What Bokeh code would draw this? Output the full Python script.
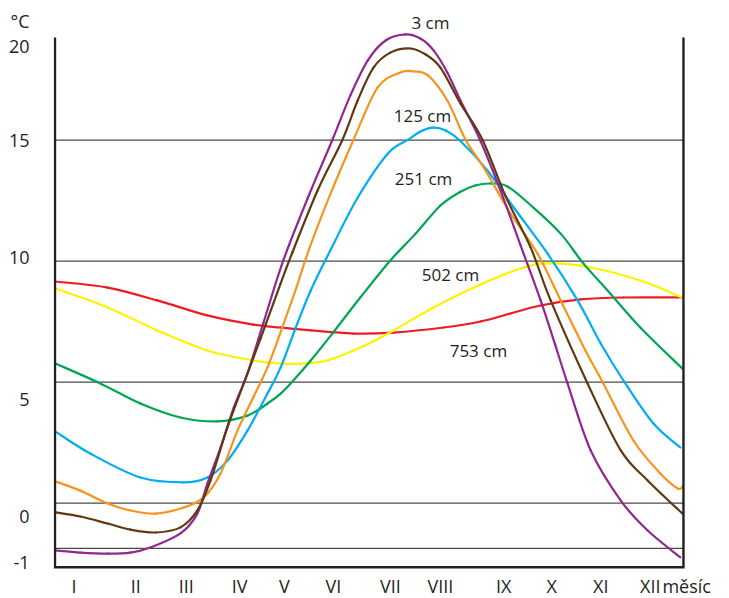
from bokeh.plotting import figure
from bokeh.models import FixedTicker, Range1d
from bokeh.embed import file_html
from bokeh.resources import INLINE
from bokeh.core.properties import value

FONT = "Open Sans"
INK = "#231F20"

# month axis (positions on the month scale) and Roman numeral labels
month_pos = [0.99, 2.16, 3.12, 4.13, 4.98, 5.91, 6.99, 7.94, 9.14, 10.05, 10.98, 11.92]
month_labels = ["I", "II", "III", "IV", "V", "VI", "VII", "VIII", "IX", "X", "XI", "XII"]
month_title = "měsíc"

# temperature axis labels and horizontal guide levels (°C)
ytick_pos = [19.91, 18.88, 14.99, 10.17, 4.31, -0.51, -2.44]
ytick_labels = ["°C", "20", "15", "10", "5", "0", "-1"]
grid_levels = [15, 10, 5, 0, -1.87]

# soil temperature through the year at each depth (month scale, °C)
d3_x = [0.64, 1.11, 1.63, 2.06, 2.44, 3.01, 3.33, 3.52, 3.77, 4.02, 4.28, 4.58, 4.96, 5.42,
        5.89, 6.23, 6.56, 6.90, 7.28, 7.56, 7.81, 8.07, 8.32, 8.70, 9.08, 9.46, 9.84, 10.12,
        10.35, 10.79, 11.36, 11.87, 12.49]
d3_t = [-1.95, -2.04, -2.08, -2.04, -1.83, -1.25, -0.43, 0.81, 2.30, 3.95, 5.36, 7.43, 10.03,
        12.59, 15.01, 16.84, 18.29, 19.12, 19.37, 19.20, 18.71, 17.80, 16.64, 14.97, 12.92,
        10.65, 8.38, 6.52, 4.95, 2.18, 0.11, -1.13, -2.24]

brown_x = [0.64, 1.11, 1.63, 2.06, 2.54, 3.01, 3.33, 3.58, 3.90, 4.21, 4.53, 4.91, 5.13, 5.61,
           6.08, 6.37, 6.67, 6.99, 7.37, 7.66, 7.94, 8.32, 8.74, 9.17, 9.65, 10.03, 10.73,
           11.36, 11.87, 12.53]
brown_t = [-0.38, -0.55, -0.84, -1.09, -1.21, -1.00, -0.30, 0.94, 3.13, 4.95, 6.81, 9.08, 10.35,
           12.92, 15.01, 16.64, 18.00, 18.62, 18.79, 18.54, 18.00, 16.52, 15.01, 12.71, 10.57,
           8.38, 4.95, 2.18, 0.94, -0.43]

orange_x = [0.64, 1.11, 1.63, 2.06, 2.54, 3.07, 3.45, 3.77, 4.09, 4.39, 4.66, 4.94, 5.19, 5.44,
            5.85, 6.29, 6.75, 7.18, 7.43, 7.71, 8.07, 8.42, 8.76, 9.27, 9.78, 10.22, 10.69,
            11.03, 11.60, 12.11, 12.44, 12.53]
orange_t = [0.90, 0.52, -0.01, -0.30, -0.43, -0.18, 0.24, 1.23, 3.00, 4.37, 5.61, 7.26, 8.79,
            10.44, 12.76, 15.01, 17.18, 17.80, 17.84, 17.67, 16.64, 15.01, 13.87, 11.97, 10.32,
            8.38, 6.31, 4.95, 2.59, 1.23, 0.61, 0.69]

d125_x = [0.64, 1.30, 2.25, 3.07, 3.52, 3.90, 4.28, 4.66, 4.91, 5.19, 5.48, 5.85, 6.37, 6.94,
          7.32, 7.56, 7.81, 8.04, 8.32, 8.83, 9.33, 9.97, 10.54, 10.98, 11.41, 11.98, 12.49]
d125_t = [2.96, 2.05, 1.06, 0.86, 1.06, 1.76, 3.00, 4.53, 5.61, 7.22, 8.79, 10.44, 12.62, 14.44,
          15.01, 15.36, 15.52, 15.40, 14.97, 13.75, 12.22, 10.32, 8.38, 6.60, 5.07, 3.29, 2.30]

d251_x = [0.64, 1.49, 2.25, 3.01, 3.71, 4.28, 4.66, 4.91, 5.15, 5.48, 5.89, 6.42, 6.99, 7.47,
          7.94, 8.32, 8.60, 8.89, 9.21, 9.70, 10.22, 10.65, 11.11, 11.73, 12.53]
d251_t = [5.77, 4.95, 4.12, 3.54, 3.38, 3.62, 4.12, 4.53, 5.07, 5.90, 7.01, 8.50, 10.03, 11.14,
          12.30, 12.87, 13.13, 13.21, 13.09, 12.22, 11.14, 9.91, 8.79, 7.26, 5.56]

d502_x = [0.64, 1.63, 2.57, 3.52, 4.39, 4.91, 5.29, 5.80, 6.42, 7.05, 7.81, 8.70, 9.52, 10.03,
          10.79, 11.73, 12.53]
d502_t = [8.87, 8.09, 7.14, 6.31, 5.90, 5.77, 5.77, 5.90, 6.43, 7.14, 8.09, 9.04, 9.74, 9.91,
          9.74, 9.20, 8.50]

d753_x = [0.64, 1.63, 2.57, 3.52, 4.39, 4.91, 5.48, 6.29, 7.05, 8.00, 8.70, 9.27, 9.84, 10.60,
          11.41, 12.53]
d753_t = [9.16, 8.91, 8.38, 7.76, 7.38, 7.26, 7.14, 7.01, 7.05, 7.26, 7.51, 7.84, 8.17, 8.42,
          8.50, 8.50]

# depth captions
depth_labels = ["3 cm", "125 cm", "251 cm", "502 cm", "753 cm"]
depth_label_x = [7.75, 7.60, 7.62, 8.13, 8.66]
depth_label_t = [19.86, 16.02, 13.41, 9.45, 6.31]

# extent of the boxed chart area
box_left, box_right = 0.630, 12.549
box_bottom, box_top = -2.645, 19.24
month_row = -3.44


def bezier_chain(xs, ys):
    """Cubic Bezier pieces of a Catmull-Rom curve through the given points."""
    n = len(xs)
    seg = dict(x0=[], y0=[], x1=[], y1=[], cx0=[], cy0=[], cx1=[], cy1=[])
    for i in range(n - 1):
        a = max(i - 1, 0)
        b = min(i + 2, n - 1)
        seg["x0"].append(xs[i])
        seg["y0"].append(ys[i])
        seg["x1"].append(xs[i + 1])
        seg["y1"].append(ys[i + 1])
        seg["cx0"].append(xs[i] + (xs[i + 1] - xs[a]) / 6)
        seg["cy0"].append(ys[i] + (ys[i + 1] - ys[a]) / 6)
        seg["cx1"].append(xs[i + 1] - (xs[b] - xs[i]) / 6)
        seg["cy1"].append(ys[i + 1] - (ys[b] - ys[i]) / 6)
    return seg


p = figure(width=729, height=598, output_backend="svg", toolbar_location=None,
           x_range=Range1d(0.6018, 13.422), y_range=Range1d(-3.938, 20.773),
           x_axis_location=None, min_border_left=53, min_border_right=0,
           min_border_top=0, min_border_bottom=0)
p.outline_line_color = None
p.xgrid.visible = False
p.ygrid.visible = False
p.background_fill_color = "white"
p.border_fill_color = "white"

ax = p.yaxis[0]
ax.ticker = FixedTicker(ticks=ytick_pos)
ax.major_label_overrides = dict(zip(ytick_pos, ytick_labels))
ax.axis_line_color = None
ax.major_tick_line_color = None
ax.minor_tick_line_color = None
ax.major_tick_out = 0
ax.major_tick_in = 0
ax.major_label_standoff = 24
ax.major_label_text_font = FONT
ax.major_label_text_font_size = "18px"
ax.major_label_text_color = INK

# horizontal guide lines
p.segment(x0=[box_left] * len(grid_levels), x1=[box_right] * len(grid_levels),
          y0=grid_levels, y1=grid_levels, line_color="#4a4a4a", line_width=1.2)

# depth curves, drawn as smooth Bezier chains through the readings
curves = [
    (d753_x, d753_t, "#ED1C24"),
    (d502_x, d502_t, "#FFF200"),
    (d251_x, d251_t, "#00A651"),
    (d125_x, d125_t, "#00AEEF"),
    (orange_x, orange_t, "#F7941D"),
    (d3_x, d3_t, "#92278F"),
    (brown_x, brown_t, "#603913"),
]
for xs, ts, col in curves:
    p.bezier(**bezier_chain(xs, ts), line_color=col, line_width=2.2, line_cap="round")

# open box: left, bottom and right sides
p.line([box_left, box_left, box_right, box_right], [box_top, box_bottom, box_bottom, box_top],
       line_color=INK, line_width=2.4, line_join="miter")

p.text(x=depth_label_x, y=depth_label_t, text=depth_labels, text_font=value(FONT),
       text_font_size="17px", text_color=INK, text_align="center", text_baseline="middle")

p.text(x=month_pos, y=[month_row] * len(month_pos), text=month_labels, text_font=value(FONT),
       text_font_size="18px", text_color=INK, text_align="center", text_baseline="middle")
p.text(x=[12.15], y=[month_row], text=[month_title], text_font=value(FONT),
       text_font_size="18px", text_color=INK, text_align="left", text_baseline="middle")

open("out.html", "w").write(file_html(p, INLINE))
